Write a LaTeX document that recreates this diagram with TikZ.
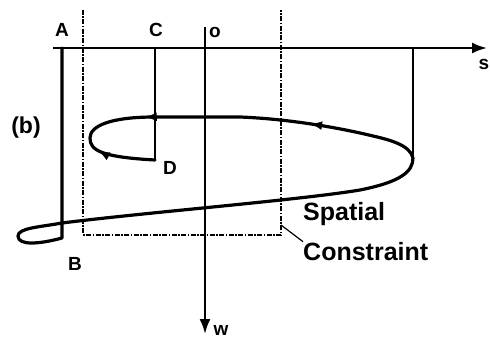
\documentclass[tikz,border=0pt]{standalone}
\usepackage{fontspec}
\setmainfont{Liberation Sans}
\usetikzlibrary{arrows.meta, positioning, decorations.markings}
\tikzset{%
   axis/.style={
      line width=2.2pt,
      -{Latex[length=15pt, width=11pt]}
   },
   proj/.style={
      line width=2.2pt
   },
   traj/.style={
      line width=3.2pt,
      line cap=round,
      line join=round
   },
   flow/.style={
      traj,
      postaction={decorate, decoration={markings,
         mark=at position #1 with {\arrow{Latex[length=12pt, width=9pt]}}}}
   },
   bound/.style={
      line width=1.6pt,
      dash pattern=on 5pt off 1.5pt on 1.5pt off 1.5pt
   },
   lbl/.style={
      font=\bfseries\fontsize{19}{19}\selectfont,
      inner sep=0pt
   },
   biglbl/.style={
      font=\bfseries\fontsize{25}{25}\selectfont,
      inner sep=0pt,
      anchor=base west
   },
}

\begin{document}
\begin{tikzpicture}[x=1pt, y=-1pt]
   \useasboundingbox (0,0) rectangle (490,339);
   % points of the path
   \coordinate (A) at (62,48);
   \coordinate (B) at (62,238);
   \coordinate (C) at (155,48);
   \coordinate (D) at (155,160);
   \coordinate (E) at (413,48);
   \coordinate (F) at (413,158);
   \coordinate (O) at (205,27);
   \coordinate (send) at (487,48);
   \coordinate (sstart) at (53,48);
   \coordinate (wend) at (205,334);
   % labels
   \node[lbl] (nA) at (62,30) {A};
   \node[lbl] (nC) at (156,30) {C};
   \node[lbl] (nO) at (215,32) {o};
   \node[lbl] (nS) at (484,64) {s};
   \node[lbl, anchor=base] (nW) at (221,335) {w};
   \node[lbl, font=\bfseries\fontsize{23}{23}\selectfont] (nb) at (26,128) {(b)};
   \node[lbl] (nB) at (75,264) {B};
   \node[lbl] (nD) at (170,168) {D};
   \node[biglbl] (sp) at (303,221) {Spatial};
   \node[biglbl] (co) at (303,260) {Constraint};
   % axes
   \draw[axis] (sstart) -- (send);
   \draw[axis] (O) -- (wend);
   % spatial constraint
   \coordinate (R1) at (83,10);
   \coordinate (R2) at (83,235);
   \coordinate (R3) at (281,235);
   \coordinate (R4) at (281,10);
   \draw[bound] (R1) -- (R2) -- (R3) -- (R4);
   \draw[line width=1.2pt] (281,225) -- (co.north west);
   % projections
   \draw[proj] (C) -- (D);
   \draw[proj] (E) -- (F);
   % trajectory
   \draw[traj] (A) -- (B)
      .. controls (40,244) and (18,246) .. (18,236)
      .. controls (18,228) and (40,227) .. (62,223)
      .. controls (150,212) and (300,200) .. (360,190)
      .. controls (400,182) and (413,172) .. (F);
   \draw[flow=0.27, postaction={decorate, decoration={markings,
         mark=at position 0.67 with {\arrow{Latex[length=12pt, width=9pt]}},
         mark=at position 0.86 with {\arrowreversed{Latex[length=12pt, width=9pt]}}}}]
      (F) .. controls (410,145) and (390,140) .. (373,136)
      .. controls (340,128) and (290,119) .. (240,117)
      -- (155,117)
      .. controls (110,117) and (90,126) .. (90,138)
      .. controls (90,150) and (100,157) .. (D);
\end{tikzpicture}
\end{document}
